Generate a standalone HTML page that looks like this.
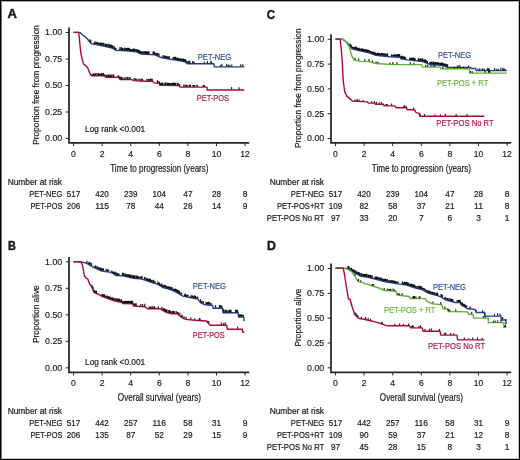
<!DOCTYPE html>
<html><head><meta charset="utf-8"><style>
html,body{margin:0;padding:0;background:#fff;width:520px;height:460px;overflow:hidden}
svg{display:block;will-change:transform}
text{font-family:"Liberation Sans",sans-serif}
</style></head><body>
<svg width="520" height="460" viewBox="0 0 520 460">
<rect x="0" y="0" width="520" height="460" fill="#fff"/>
<rect x="1" y="0" width="1" height="460" fill="#777"/><rect x="0" y="1" width="520" height="1" fill="#aaa"/><rect x="518" y="0" width="1" height="460" fill="#c8c8c8"/><rect x="0" y="458" width="520" height="1" fill="#c8c8c8"/>
<rect x="0" y="0" width="1" height="460" fill="#000"/><rect x="0" y="0" width="520" height="1" fill="#000"/><rect x="519" y="0" width="1" height="460" fill="#000"/><rect x="0" y="459" width="520" height="1" fill="#000"/>
<text x="7.50" y="17.80" font-size="12.6" fill="#1a1a1a" stroke="#1a1a1a" stroke-width="0.2" text-anchor="start" textLength="9.40" lengthAdjust="spacingAndGlyphs" font-weight="bold" style="stroke-width:0.45px">A</text>
<text x="8.00" y="249.70" font-size="12.6" fill="#1a1a1a" stroke="#1a1a1a" stroke-width="0.2" text-anchor="start" textLength="7.90" lengthAdjust="spacingAndGlyphs" font-weight="bold" style="stroke-width:0.45px">B</text>
<text x="266.70" y="18.60" font-size="12.6" fill="#1a1a1a" stroke="#1a1a1a" stroke-width="0.2" text-anchor="start" textLength="8.30" lengthAdjust="spacingAndGlyphs" font-weight="bold" style="stroke-width:0.45px">C</text>
<text x="266.90" y="249.70" font-size="12.6" fill="#1a1a1a" stroke="#1a1a1a" stroke-width="0.2" text-anchor="start" textLength="8.90" lengthAdjust="spacingAndGlyphs" font-weight="bold" style="stroke-width:0.45px">D</text>
<path d="M69.00 27.60V142.85H249.20" stroke="#262626" stroke-width="1.75" fill="none" stroke-linejoin="miter"/>
<text x="62.30" y="141.35" font-size="9.6" fill="#222" stroke="#222" stroke-width="0.2" text-anchor="end" textLength="17.20" lengthAdjust="spacingAndGlyphs">0.00</text>
<text x="62.30" y="114.85" font-size="9.6" fill="#222" stroke="#222" stroke-width="0.2" text-anchor="end" textLength="17.20" lengthAdjust="spacingAndGlyphs">0.25</text>
<text x="62.30" y="88.35" font-size="9.6" fill="#222" stroke="#222" stroke-width="0.2" text-anchor="end" textLength="17.20" lengthAdjust="spacingAndGlyphs">0.50</text>
<text x="62.30" y="61.85" font-size="9.6" fill="#222" stroke="#222" stroke-width="0.2" text-anchor="end" textLength="17.20" lengthAdjust="spacingAndGlyphs">0.75</text>
<text x="62.30" y="35.35" font-size="9.6" fill="#222" stroke="#222" stroke-width="0.2" text-anchor="end" textLength="17.20" lengthAdjust="spacingAndGlyphs">1.00</text>
<text x="73.50" y="156.70" font-size="9.7" fill="#222" stroke="#222" stroke-width="0.2" text-anchor="middle" textLength="4.80" lengthAdjust="spacingAndGlyphs">0</text>
<text x="102.10" y="156.70" font-size="9.7" fill="#222" stroke="#222" stroke-width="0.2" text-anchor="middle" textLength="4.80" lengthAdjust="spacingAndGlyphs">2</text>
<text x="130.70" y="156.70" font-size="9.7" fill="#222" stroke="#222" stroke-width="0.2" text-anchor="middle" textLength="4.80" lengthAdjust="spacingAndGlyphs">4</text>
<text x="159.30" y="156.70" font-size="9.7" fill="#222" stroke="#222" stroke-width="0.2" text-anchor="middle" textLength="4.80" lengthAdjust="spacingAndGlyphs">6</text>
<text x="187.90" y="156.70" font-size="9.7" fill="#222" stroke="#222" stroke-width="0.2" text-anchor="middle" textLength="4.80" lengthAdjust="spacingAndGlyphs">8</text>
<text x="216.50" y="156.70" font-size="9.7" fill="#222" stroke="#222" stroke-width="0.2" text-anchor="middle" textLength="9.50" lengthAdjust="spacingAndGlyphs">10</text>
<text x="245.10" y="156.70" font-size="9.7" fill="#222" stroke="#222" stroke-width="0.2" text-anchor="middle" textLength="9.50" lengthAdjust="spacingAndGlyphs">12</text>
<path d="M65.70 138.50H69.0 M65.70 112.00H69.0 M65.70 85.50H69.0 M65.70 59.00H69.0 M65.70 32.50H69.0 M73.50 142.85V146.05 M102.10 142.85V146.05 M130.70 142.85V146.05 M159.30 142.85V146.05 M187.90 142.85V146.05 M216.50 142.85V146.05 M245.10 142.85V146.05" stroke="#262626" stroke-width="1" fill="none"/>
<text x="159.40" y="171.60" font-size="10.2" fill="#1a1a1a" stroke="#1a1a1a" stroke-width="0.2" text-anchor="middle" textLength="98.30" lengthAdjust="spacingAndGlyphs">Time to progression (years)</text>
<text transform="translate(39.00,84.90) rotate(-90)" x="0" y="0" font-size="9.9" fill="#1a1a1a" stroke="#1a1a1a" stroke-width="0.2" text-anchor="middle" textLength="119.60" lengthAdjust="spacingAndGlyphs">Proportion free from progression</text>
<path d="M69.00 256.90V372.25H249.20" stroke="#262626" stroke-width="1.75" fill="none" stroke-linejoin="miter"/>
<text x="62.30" y="370.65" font-size="9.6" fill="#222" stroke="#222" stroke-width="0.2" text-anchor="end" textLength="17.20" lengthAdjust="spacingAndGlyphs">0.00</text>
<text x="62.30" y="344.15" font-size="9.6" fill="#222" stroke="#222" stroke-width="0.2" text-anchor="end" textLength="17.20" lengthAdjust="spacingAndGlyphs">0.25</text>
<text x="62.30" y="317.65" font-size="9.6" fill="#222" stroke="#222" stroke-width="0.2" text-anchor="end" textLength="17.20" lengthAdjust="spacingAndGlyphs">0.50</text>
<text x="62.30" y="291.15" font-size="9.6" fill="#222" stroke="#222" stroke-width="0.2" text-anchor="end" textLength="17.20" lengthAdjust="spacingAndGlyphs">0.75</text>
<text x="62.30" y="264.65" font-size="9.6" fill="#222" stroke="#222" stroke-width="0.2" text-anchor="end" textLength="17.20" lengthAdjust="spacingAndGlyphs">1.00</text>
<text x="73.50" y="385.70" font-size="9.7" fill="#222" stroke="#222" stroke-width="0.2" text-anchor="middle" textLength="4.80" lengthAdjust="spacingAndGlyphs">0</text>
<text x="102.10" y="385.70" font-size="9.7" fill="#222" stroke="#222" stroke-width="0.2" text-anchor="middle" textLength="4.80" lengthAdjust="spacingAndGlyphs">2</text>
<text x="130.70" y="385.70" font-size="9.7" fill="#222" stroke="#222" stroke-width="0.2" text-anchor="middle" textLength="4.80" lengthAdjust="spacingAndGlyphs">4</text>
<text x="159.30" y="385.70" font-size="9.7" fill="#222" stroke="#222" stroke-width="0.2" text-anchor="middle" textLength="4.80" lengthAdjust="spacingAndGlyphs">6</text>
<text x="187.90" y="385.70" font-size="9.7" fill="#222" stroke="#222" stroke-width="0.2" text-anchor="middle" textLength="4.80" lengthAdjust="spacingAndGlyphs">8</text>
<text x="216.50" y="385.70" font-size="9.7" fill="#222" stroke="#222" stroke-width="0.2" text-anchor="middle" textLength="9.50" lengthAdjust="spacingAndGlyphs">10</text>
<text x="245.10" y="385.70" font-size="9.7" fill="#222" stroke="#222" stroke-width="0.2" text-anchor="middle" textLength="9.50" lengthAdjust="spacingAndGlyphs">12</text>
<path d="M65.70 367.80H69.0 M65.70 341.30H69.0 M65.70 314.80H69.0 M65.70 288.30H69.0 M65.70 261.80H69.0 M73.50 372.25V375.45 M102.10 372.25V375.45 M130.70 372.25V375.45 M159.30 372.25V375.45 M187.90 372.25V375.45 M216.50 372.25V375.45 M245.10 372.25V375.45" stroke="#262626" stroke-width="1" fill="none"/>
<text x="159.40" y="400.60" font-size="10.2" fill="#1a1a1a" stroke="#1a1a1a" stroke-width="0.2" text-anchor="middle" textLength="83.20" lengthAdjust="spacingAndGlyphs">Overall survival (years)</text>
<text transform="translate(39.00,314.20) rotate(-90)" x="0" y="0" font-size="9.9" fill="#1a1a1a" stroke="#1a1a1a" stroke-width="0.2" text-anchor="middle" textLength="57.70" lengthAdjust="spacingAndGlyphs">Proportion alive</text>
<path d="M331.00 34.20V142.85H511.20" stroke="#262626" stroke-width="1.75" fill="none" stroke-linejoin="miter"/>
<text x="324.30" y="141.35" font-size="9.6" fill="#222" stroke="#222" stroke-width="0.2" text-anchor="end" textLength="17.20" lengthAdjust="spacingAndGlyphs">0.00</text>
<text x="324.30" y="116.55" font-size="9.6" fill="#222" stroke="#222" stroke-width="0.2" text-anchor="end" textLength="17.20" lengthAdjust="spacingAndGlyphs">0.25</text>
<text x="324.30" y="91.75" font-size="9.6" fill="#222" stroke="#222" stroke-width="0.2" text-anchor="end" textLength="17.20" lengthAdjust="spacingAndGlyphs">0.50</text>
<text x="324.30" y="66.95" font-size="9.6" fill="#222" stroke="#222" stroke-width="0.2" text-anchor="end" textLength="17.20" lengthAdjust="spacingAndGlyphs">0.75</text>
<text x="324.30" y="42.15" font-size="9.6" fill="#222" stroke="#222" stroke-width="0.2" text-anchor="end" textLength="17.20" lengthAdjust="spacingAndGlyphs">1.00</text>
<text x="335.50" y="156.70" font-size="9.7" fill="#222" stroke="#222" stroke-width="0.2" text-anchor="middle" textLength="4.80" lengthAdjust="spacingAndGlyphs">0</text>
<text x="364.10" y="156.70" font-size="9.7" fill="#222" stroke="#222" stroke-width="0.2" text-anchor="middle" textLength="4.80" lengthAdjust="spacingAndGlyphs">2</text>
<text x="392.70" y="156.70" font-size="9.7" fill="#222" stroke="#222" stroke-width="0.2" text-anchor="middle" textLength="4.80" lengthAdjust="spacingAndGlyphs">4</text>
<text x="421.30" y="156.70" font-size="9.7" fill="#222" stroke="#222" stroke-width="0.2" text-anchor="middle" textLength="4.80" lengthAdjust="spacingAndGlyphs">6</text>
<text x="449.90" y="156.70" font-size="9.7" fill="#222" stroke="#222" stroke-width="0.2" text-anchor="middle" textLength="4.80" lengthAdjust="spacingAndGlyphs">8</text>
<text x="478.50" y="156.70" font-size="9.7" fill="#222" stroke="#222" stroke-width="0.2" text-anchor="middle" textLength="9.50" lengthAdjust="spacingAndGlyphs">10</text>
<text x="507.10" y="156.70" font-size="9.7" fill="#222" stroke="#222" stroke-width="0.2" text-anchor="middle" textLength="9.50" lengthAdjust="spacingAndGlyphs">12</text>
<path d="M327.70 138.50H331.0 M327.70 113.70H331.0 M327.70 88.90H331.0 M327.70 64.10H331.0 M327.70 39.30H331.0 M335.50 142.85V146.05 M364.10 142.85V146.05 M392.70 142.85V146.05 M421.30 142.85V146.05 M449.90 142.85V146.05 M478.50 142.85V146.05 M507.10 142.85V146.05" stroke="#262626" stroke-width="1" fill="none"/>
<text x="421.40" y="171.60" font-size="10.2" fill="#1a1a1a" stroke="#1a1a1a" stroke-width="0.2" text-anchor="middle" textLength="99.30" lengthAdjust="spacingAndGlyphs">Time to progression (years)</text>
<text transform="translate(301.00,88.30) rotate(-90)" x="0" y="0" font-size="9.9" fill="#1a1a1a" stroke="#1a1a1a" stroke-width="0.2" text-anchor="middle" textLength="119.60" lengthAdjust="spacingAndGlyphs">Proportion free from progression</text>
<path d="M331.00 263.50V372.25H511.20" stroke="#262626" stroke-width="1.75" fill="none" stroke-linejoin="miter"/>
<text x="324.30" y="370.65" font-size="9.6" fill="#222" stroke="#222" stroke-width="0.2" text-anchor="end" textLength="17.20" lengthAdjust="spacingAndGlyphs">0.00</text>
<text x="324.30" y="345.85" font-size="9.6" fill="#222" stroke="#222" stroke-width="0.2" text-anchor="end" textLength="17.20" lengthAdjust="spacingAndGlyphs">0.25</text>
<text x="324.30" y="321.05" font-size="9.6" fill="#222" stroke="#222" stroke-width="0.2" text-anchor="end" textLength="17.20" lengthAdjust="spacingAndGlyphs">0.50</text>
<text x="324.30" y="296.25" font-size="9.6" fill="#222" stroke="#222" stroke-width="0.2" text-anchor="end" textLength="17.20" lengthAdjust="spacingAndGlyphs">0.75</text>
<text x="324.30" y="271.45" font-size="9.6" fill="#222" stroke="#222" stroke-width="0.2" text-anchor="end" textLength="17.20" lengthAdjust="spacingAndGlyphs">1.00</text>
<text x="335.50" y="385.70" font-size="9.7" fill="#222" stroke="#222" stroke-width="0.2" text-anchor="middle" textLength="4.80" lengthAdjust="spacingAndGlyphs">0</text>
<text x="364.10" y="385.70" font-size="9.7" fill="#222" stroke="#222" stroke-width="0.2" text-anchor="middle" textLength="4.80" lengthAdjust="spacingAndGlyphs">2</text>
<text x="392.70" y="385.70" font-size="9.7" fill="#222" stroke="#222" stroke-width="0.2" text-anchor="middle" textLength="4.80" lengthAdjust="spacingAndGlyphs">4</text>
<text x="421.30" y="385.70" font-size="9.7" fill="#222" stroke="#222" stroke-width="0.2" text-anchor="middle" textLength="4.80" lengthAdjust="spacingAndGlyphs">6</text>
<text x="449.90" y="385.70" font-size="9.7" fill="#222" stroke="#222" stroke-width="0.2" text-anchor="middle" textLength="4.80" lengthAdjust="spacingAndGlyphs">8</text>
<text x="478.50" y="385.70" font-size="9.7" fill="#222" stroke="#222" stroke-width="0.2" text-anchor="middle" textLength="9.50" lengthAdjust="spacingAndGlyphs">10</text>
<text x="507.10" y="385.70" font-size="9.7" fill="#222" stroke="#222" stroke-width="0.2" text-anchor="middle" textLength="9.50" lengthAdjust="spacingAndGlyphs">12</text>
<path d="M327.70 367.80H331.0 M327.70 343.00H331.0 M327.70 318.20H331.0 M327.70 293.40H331.0 M327.70 268.60H331.0 M335.50 372.25V375.45 M364.10 372.25V375.45 M392.70 372.25V375.45 M421.30 372.25V375.45 M449.90 372.25V375.45 M478.50 372.25V375.45 M507.10 372.25V375.45" stroke="#262626" stroke-width="1" fill="none"/>
<text x="421.40" y="400.60" font-size="10.2" fill="#1a1a1a" stroke="#1a1a1a" stroke-width="0.2" text-anchor="middle" textLength="83.20" lengthAdjust="spacingAndGlyphs">Overall survival (years)</text>
<text transform="translate(301.00,317.60) rotate(-90)" x="0" y="0" font-size="9.9" fill="#1a1a1a" stroke="#1a1a1a" stroke-width="0.2" text-anchor="middle" textLength="57.70" lengthAdjust="spacingAndGlyphs">Proportion alive</text>
<text x="7.70" y="184.90" font-size="8.9" fill="#1a1a1a" stroke="#1a1a1a" stroke-width="0.2" text-anchor="start" textLength="54.30" lengthAdjust="spacingAndGlyphs">Number at risk</text>
<text x="62.30" y="196.70" font-size="8.9" fill="#1a1a1a" stroke="#1a1a1a" stroke-width="0.2" text-anchor="end" textLength="33.00" lengthAdjust="spacingAndGlyphs">PET-NEG</text>
<text x="73.50" y="196.70" font-size="8.9" fill="#1a1a1a" stroke="#1a1a1a" stroke-width="0.2" text-anchor="middle" textLength="13.50" lengthAdjust="spacingAndGlyphs">517</text>
<text x="102.10" y="196.70" font-size="8.9" fill="#1a1a1a" stroke="#1a1a1a" stroke-width="0.2" text-anchor="middle" textLength="13.50" lengthAdjust="spacingAndGlyphs">420</text>
<text x="130.70" y="196.70" font-size="8.9" fill="#1a1a1a" stroke="#1a1a1a" stroke-width="0.2" text-anchor="middle" textLength="13.50" lengthAdjust="spacingAndGlyphs">239</text>
<text x="159.30" y="196.70" font-size="8.9" fill="#1a1a1a" stroke="#1a1a1a" stroke-width="0.2" text-anchor="middle" textLength="13.50" lengthAdjust="spacingAndGlyphs">104</text>
<text x="187.90" y="196.70" font-size="8.9" fill="#1a1a1a" stroke="#1a1a1a" stroke-width="0.2" text-anchor="middle" textLength="9.10" lengthAdjust="spacingAndGlyphs">47</text>
<text x="216.50" y="196.70" font-size="8.9" fill="#1a1a1a" stroke="#1a1a1a" stroke-width="0.2" text-anchor="middle" textLength="9.10" lengthAdjust="spacingAndGlyphs">28</text>
<text x="245.10" y="196.70" font-size="8.9" fill="#1a1a1a" stroke="#1a1a1a" stroke-width="0.2" text-anchor="middle" textLength="4.70" lengthAdjust="spacingAndGlyphs">8</text>
<text x="62.30" y="208.85" font-size="8.9" fill="#1a1a1a" stroke="#1a1a1a" stroke-width="0.2" text-anchor="end" textLength="31.90" lengthAdjust="spacingAndGlyphs">PET-POS</text>
<text x="73.50" y="208.85" font-size="8.9" fill="#1a1a1a" stroke="#1a1a1a" stroke-width="0.2" text-anchor="middle" textLength="13.50" lengthAdjust="spacingAndGlyphs">206</text>
<text x="102.10" y="208.85" font-size="8.9" fill="#1a1a1a" stroke="#1a1a1a" stroke-width="0.2" text-anchor="middle" textLength="13.50" lengthAdjust="spacingAndGlyphs">115</text>
<text x="130.70" y="208.85" font-size="8.9" fill="#1a1a1a" stroke="#1a1a1a" stroke-width="0.2" text-anchor="middle" textLength="9.10" lengthAdjust="spacingAndGlyphs">78</text>
<text x="159.30" y="208.85" font-size="8.9" fill="#1a1a1a" stroke="#1a1a1a" stroke-width="0.2" text-anchor="middle" textLength="9.10" lengthAdjust="spacingAndGlyphs">44</text>
<text x="187.90" y="208.85" font-size="8.9" fill="#1a1a1a" stroke="#1a1a1a" stroke-width="0.2" text-anchor="middle" textLength="9.10" lengthAdjust="spacingAndGlyphs">26</text>
<text x="216.50" y="208.85" font-size="8.9" fill="#1a1a1a" stroke="#1a1a1a" stroke-width="0.2" text-anchor="middle" textLength="9.10" lengthAdjust="spacingAndGlyphs">14</text>
<text x="245.10" y="208.85" font-size="8.9" fill="#1a1a1a" stroke="#1a1a1a" stroke-width="0.2" text-anchor="middle" textLength="4.70" lengthAdjust="spacingAndGlyphs">9</text>
<text x="7.70" y="413.90" font-size="8.9" fill="#1a1a1a" stroke="#1a1a1a" stroke-width="0.2" text-anchor="start" textLength="54.30" lengthAdjust="spacingAndGlyphs">Number at risk</text>
<text x="62.30" y="425.70" font-size="8.9" fill="#1a1a1a" stroke="#1a1a1a" stroke-width="0.2" text-anchor="end" textLength="33.00" lengthAdjust="spacingAndGlyphs">PET-NEG</text>
<text x="73.50" y="425.70" font-size="8.9" fill="#1a1a1a" stroke="#1a1a1a" stroke-width="0.2" text-anchor="middle" textLength="13.50" lengthAdjust="spacingAndGlyphs">517</text>
<text x="102.10" y="425.70" font-size="8.9" fill="#1a1a1a" stroke="#1a1a1a" stroke-width="0.2" text-anchor="middle" textLength="13.50" lengthAdjust="spacingAndGlyphs">442</text>
<text x="130.70" y="425.70" font-size="8.9" fill="#1a1a1a" stroke="#1a1a1a" stroke-width="0.2" text-anchor="middle" textLength="13.50" lengthAdjust="spacingAndGlyphs">257</text>
<text x="159.30" y="425.70" font-size="8.9" fill="#1a1a1a" stroke="#1a1a1a" stroke-width="0.2" text-anchor="middle" textLength="13.50" lengthAdjust="spacingAndGlyphs">116</text>
<text x="187.90" y="425.70" font-size="8.9" fill="#1a1a1a" stroke="#1a1a1a" stroke-width="0.2" text-anchor="middle" textLength="9.10" lengthAdjust="spacingAndGlyphs">58</text>
<text x="216.50" y="425.70" font-size="8.9" fill="#1a1a1a" stroke="#1a1a1a" stroke-width="0.2" text-anchor="middle" textLength="9.10" lengthAdjust="spacingAndGlyphs">31</text>
<text x="245.10" y="425.70" font-size="8.9" fill="#1a1a1a" stroke="#1a1a1a" stroke-width="0.2" text-anchor="middle" textLength="4.70" lengthAdjust="spacingAndGlyphs">9</text>
<text x="62.30" y="437.85" font-size="8.9" fill="#1a1a1a" stroke="#1a1a1a" stroke-width="0.2" text-anchor="end" textLength="31.90" lengthAdjust="spacingAndGlyphs">PET-POS</text>
<text x="73.50" y="437.85" font-size="8.9" fill="#1a1a1a" stroke="#1a1a1a" stroke-width="0.2" text-anchor="middle" textLength="13.50" lengthAdjust="spacingAndGlyphs">206</text>
<text x="102.10" y="437.85" font-size="8.9" fill="#1a1a1a" stroke="#1a1a1a" stroke-width="0.2" text-anchor="middle" textLength="13.50" lengthAdjust="spacingAndGlyphs">135</text>
<text x="130.70" y="437.85" font-size="8.9" fill="#1a1a1a" stroke="#1a1a1a" stroke-width="0.2" text-anchor="middle" textLength="9.10" lengthAdjust="spacingAndGlyphs">87</text>
<text x="159.30" y="437.85" font-size="8.9" fill="#1a1a1a" stroke="#1a1a1a" stroke-width="0.2" text-anchor="middle" textLength="9.10" lengthAdjust="spacingAndGlyphs">52</text>
<text x="187.90" y="437.85" font-size="8.9" fill="#1a1a1a" stroke="#1a1a1a" stroke-width="0.2" text-anchor="middle" textLength="9.10" lengthAdjust="spacingAndGlyphs">29</text>
<text x="216.50" y="437.85" font-size="8.9" fill="#1a1a1a" stroke="#1a1a1a" stroke-width="0.2" text-anchor="middle" textLength="9.10" lengthAdjust="spacingAndGlyphs">15</text>
<text x="245.10" y="437.85" font-size="8.9" fill="#1a1a1a" stroke="#1a1a1a" stroke-width="0.2" text-anchor="middle" textLength="4.70" lengthAdjust="spacingAndGlyphs">9</text>
<text x="269.70" y="184.90" font-size="8.9" fill="#1a1a1a" stroke="#1a1a1a" stroke-width="0.2" text-anchor="start" textLength="54.30" lengthAdjust="spacingAndGlyphs">Number at risk</text>
<text x="324.30" y="196.70" font-size="8.9" fill="#1a1a1a" stroke="#1a1a1a" stroke-width="0.2" text-anchor="end" textLength="33.50" lengthAdjust="spacingAndGlyphs">PET-NEG</text>
<text x="335.50" y="196.70" font-size="8.9" fill="#1a1a1a" stroke="#1a1a1a" stroke-width="0.2" text-anchor="middle" textLength="13.50" lengthAdjust="spacingAndGlyphs">517</text>
<text x="364.10" y="196.70" font-size="8.9" fill="#1a1a1a" stroke="#1a1a1a" stroke-width="0.2" text-anchor="middle" textLength="13.50" lengthAdjust="spacingAndGlyphs">420</text>
<text x="392.70" y="196.70" font-size="8.9" fill="#1a1a1a" stroke="#1a1a1a" stroke-width="0.2" text-anchor="middle" textLength="13.50" lengthAdjust="spacingAndGlyphs">239</text>
<text x="421.30" y="196.70" font-size="8.9" fill="#1a1a1a" stroke="#1a1a1a" stroke-width="0.2" text-anchor="middle" textLength="13.50" lengthAdjust="spacingAndGlyphs">104</text>
<text x="449.90" y="196.70" font-size="8.9" fill="#1a1a1a" stroke="#1a1a1a" stroke-width="0.2" text-anchor="middle" textLength="9.10" lengthAdjust="spacingAndGlyphs">47</text>
<text x="478.50" y="196.70" font-size="8.9" fill="#1a1a1a" stroke="#1a1a1a" stroke-width="0.2" text-anchor="middle" textLength="9.10" lengthAdjust="spacingAndGlyphs">28</text>
<text x="507.10" y="196.70" font-size="8.9" fill="#1a1a1a" stroke="#1a1a1a" stroke-width="0.2" text-anchor="middle" textLength="4.70" lengthAdjust="spacingAndGlyphs">8</text>
<text x="324.30" y="208.85" font-size="8.9" fill="#1a1a1a" stroke="#1a1a1a" stroke-width="0.2" text-anchor="end" textLength="47.30" lengthAdjust="spacingAndGlyphs">PET-POS+RT</text>
<text x="335.50" y="208.85" font-size="8.9" fill="#1a1a1a" stroke="#1a1a1a" stroke-width="0.2" text-anchor="middle" textLength="13.50" lengthAdjust="spacingAndGlyphs">109</text>
<text x="364.10" y="208.85" font-size="8.9" fill="#1a1a1a" stroke="#1a1a1a" stroke-width="0.2" text-anchor="middle" textLength="9.10" lengthAdjust="spacingAndGlyphs">82</text>
<text x="392.70" y="208.85" font-size="8.9" fill="#1a1a1a" stroke="#1a1a1a" stroke-width="0.2" text-anchor="middle" textLength="9.10" lengthAdjust="spacingAndGlyphs">58</text>
<text x="421.30" y="208.85" font-size="8.9" fill="#1a1a1a" stroke="#1a1a1a" stroke-width="0.2" text-anchor="middle" textLength="9.10" lengthAdjust="spacingAndGlyphs">37</text>
<text x="449.90" y="208.85" font-size="8.9" fill="#1a1a1a" stroke="#1a1a1a" stroke-width="0.2" text-anchor="middle" textLength="9.10" lengthAdjust="spacingAndGlyphs">21</text>
<text x="478.50" y="208.85" font-size="8.9" fill="#1a1a1a" stroke="#1a1a1a" stroke-width="0.2" text-anchor="middle" textLength="9.10" lengthAdjust="spacingAndGlyphs">11</text>
<text x="507.10" y="208.85" font-size="8.9" fill="#1a1a1a" stroke="#1a1a1a" stroke-width="0.2" text-anchor="middle" textLength="4.70" lengthAdjust="spacingAndGlyphs">8</text>
<text x="324.30" y="221.00" font-size="8.9" fill="#1a1a1a" stroke="#1a1a1a" stroke-width="0.2" text-anchor="end" textLength="57.50" lengthAdjust="spacingAndGlyphs">PET-POS No RT</text>
<text x="335.50" y="221.00" font-size="8.9" fill="#1a1a1a" stroke="#1a1a1a" stroke-width="0.2" text-anchor="middle" textLength="9.10" lengthAdjust="spacingAndGlyphs">97</text>
<text x="364.10" y="221.00" font-size="8.9" fill="#1a1a1a" stroke="#1a1a1a" stroke-width="0.2" text-anchor="middle" textLength="9.10" lengthAdjust="spacingAndGlyphs">33</text>
<text x="392.70" y="221.00" font-size="8.9" fill="#1a1a1a" stroke="#1a1a1a" stroke-width="0.2" text-anchor="middle" textLength="9.10" lengthAdjust="spacingAndGlyphs">20</text>
<text x="421.30" y="221.00" font-size="8.9" fill="#1a1a1a" stroke="#1a1a1a" stroke-width="0.2" text-anchor="middle" textLength="4.70" lengthAdjust="spacingAndGlyphs">7</text>
<text x="449.90" y="221.00" font-size="8.9" fill="#1a1a1a" stroke="#1a1a1a" stroke-width="0.2" text-anchor="middle" textLength="4.70" lengthAdjust="spacingAndGlyphs">6</text>
<text x="478.50" y="221.00" font-size="8.9" fill="#1a1a1a" stroke="#1a1a1a" stroke-width="0.2" text-anchor="middle" textLength="4.70" lengthAdjust="spacingAndGlyphs">3</text>
<text x="507.10" y="221.00" font-size="8.9" fill="#1a1a1a" stroke="#1a1a1a" stroke-width="0.2" text-anchor="middle" textLength="4.70" lengthAdjust="spacingAndGlyphs">1</text>
<text x="269.70" y="413.90" font-size="8.9" fill="#1a1a1a" stroke="#1a1a1a" stroke-width="0.2" text-anchor="start" textLength="54.30" lengthAdjust="spacingAndGlyphs">Number at risk</text>
<text x="324.30" y="425.70" font-size="8.9" fill="#1a1a1a" stroke="#1a1a1a" stroke-width="0.2" text-anchor="end" textLength="33.50" lengthAdjust="spacingAndGlyphs">PET-NEG</text>
<text x="335.50" y="425.70" font-size="8.9" fill="#1a1a1a" stroke="#1a1a1a" stroke-width="0.2" text-anchor="middle" textLength="13.50" lengthAdjust="spacingAndGlyphs">517</text>
<text x="364.10" y="425.70" font-size="8.9" fill="#1a1a1a" stroke="#1a1a1a" stroke-width="0.2" text-anchor="middle" textLength="13.50" lengthAdjust="spacingAndGlyphs">442</text>
<text x="392.70" y="425.70" font-size="8.9" fill="#1a1a1a" stroke="#1a1a1a" stroke-width="0.2" text-anchor="middle" textLength="13.50" lengthAdjust="spacingAndGlyphs">257</text>
<text x="421.30" y="425.70" font-size="8.9" fill="#1a1a1a" stroke="#1a1a1a" stroke-width="0.2" text-anchor="middle" textLength="13.50" lengthAdjust="spacingAndGlyphs">116</text>
<text x="449.90" y="425.70" font-size="8.9" fill="#1a1a1a" stroke="#1a1a1a" stroke-width="0.2" text-anchor="middle" textLength="9.10" lengthAdjust="spacingAndGlyphs">58</text>
<text x="478.50" y="425.70" font-size="8.9" fill="#1a1a1a" stroke="#1a1a1a" stroke-width="0.2" text-anchor="middle" textLength="9.10" lengthAdjust="spacingAndGlyphs">31</text>
<text x="507.10" y="425.70" font-size="8.9" fill="#1a1a1a" stroke="#1a1a1a" stroke-width="0.2" text-anchor="middle" textLength="4.70" lengthAdjust="spacingAndGlyphs">9</text>
<text x="324.30" y="437.85" font-size="8.9" fill="#1a1a1a" stroke="#1a1a1a" stroke-width="0.2" text-anchor="end" textLength="47.30" lengthAdjust="spacingAndGlyphs">PET-POS+RT</text>
<text x="335.50" y="437.85" font-size="8.9" fill="#1a1a1a" stroke="#1a1a1a" stroke-width="0.2" text-anchor="middle" textLength="13.50" lengthAdjust="spacingAndGlyphs">109</text>
<text x="364.10" y="437.85" font-size="8.9" fill="#1a1a1a" stroke="#1a1a1a" stroke-width="0.2" text-anchor="middle" textLength="9.10" lengthAdjust="spacingAndGlyphs">90</text>
<text x="392.70" y="437.85" font-size="8.9" fill="#1a1a1a" stroke="#1a1a1a" stroke-width="0.2" text-anchor="middle" textLength="9.10" lengthAdjust="spacingAndGlyphs">59</text>
<text x="421.30" y="437.85" font-size="8.9" fill="#1a1a1a" stroke="#1a1a1a" stroke-width="0.2" text-anchor="middle" textLength="9.10" lengthAdjust="spacingAndGlyphs">37</text>
<text x="449.90" y="437.85" font-size="8.9" fill="#1a1a1a" stroke="#1a1a1a" stroke-width="0.2" text-anchor="middle" textLength="9.10" lengthAdjust="spacingAndGlyphs">21</text>
<text x="478.50" y="437.85" font-size="8.9" fill="#1a1a1a" stroke="#1a1a1a" stroke-width="0.2" text-anchor="middle" textLength="9.10" lengthAdjust="spacingAndGlyphs">12</text>
<text x="507.10" y="437.85" font-size="8.9" fill="#1a1a1a" stroke="#1a1a1a" stroke-width="0.2" text-anchor="middle" textLength="4.70" lengthAdjust="spacingAndGlyphs">8</text>
<text x="324.30" y="450.00" font-size="8.9" fill="#1a1a1a" stroke="#1a1a1a" stroke-width="0.2" text-anchor="end" textLength="57.50" lengthAdjust="spacingAndGlyphs">PET-POS No RT</text>
<text x="335.50" y="450.00" font-size="8.9" fill="#1a1a1a" stroke="#1a1a1a" stroke-width="0.2" text-anchor="middle" textLength="9.10" lengthAdjust="spacingAndGlyphs">97</text>
<text x="364.10" y="450.00" font-size="8.9" fill="#1a1a1a" stroke="#1a1a1a" stroke-width="0.2" text-anchor="middle" textLength="9.10" lengthAdjust="spacingAndGlyphs">45</text>
<text x="392.70" y="450.00" font-size="8.9" fill="#1a1a1a" stroke="#1a1a1a" stroke-width="0.2" text-anchor="middle" textLength="9.10" lengthAdjust="spacingAndGlyphs">28</text>
<text x="421.30" y="450.00" font-size="8.9" fill="#1a1a1a" stroke="#1a1a1a" stroke-width="0.2" text-anchor="middle" textLength="9.10" lengthAdjust="spacingAndGlyphs">15</text>
<text x="449.90" y="450.00" font-size="8.9" fill="#1a1a1a" stroke="#1a1a1a" stroke-width="0.2" text-anchor="middle" textLength="4.70" lengthAdjust="spacingAndGlyphs">8</text>
<text x="478.50" y="450.00" font-size="8.9" fill="#1a1a1a" stroke="#1a1a1a" stroke-width="0.2" text-anchor="middle" textLength="4.70" lengthAdjust="spacingAndGlyphs">3</text>
<text x="507.10" y="450.00" font-size="8.9" fill="#1a1a1a" stroke="#1a1a1a" stroke-width="0.2" text-anchor="middle" textLength="4.70" lengthAdjust="spacingAndGlyphs">1</text>
<text x="85.10" y="132.10" font-size="8.8" fill="#1a1a1a" stroke="#1a1a1a" stroke-width="0.2" text-anchor="start" textLength="60.00" lengthAdjust="spacingAndGlyphs">Log rank &lt;0.001</text>
<text x="85.10" y="364.90" font-size="8.8" fill="#1a1a1a" stroke="#1a1a1a" stroke-width="0.2" text-anchor="start" textLength="60.00" lengthAdjust="spacingAndGlyphs">Log rank &lt;0.001</text>
<text x="197.80" y="60.00" font-size="8.4" fill="#36559a" stroke="#36559a" stroke-width="0.2" text-anchor="start" textLength="33.30" lengthAdjust="spacingAndGlyphs">PET-NEG</text>
<text x="196.80" y="101.30" font-size="8.4" fill="#b3204a" stroke="#b3204a" stroke-width="0.2" text-anchor="start" textLength="32.30" lengthAdjust="spacingAndGlyphs">PET-POS</text>
<text x="192.80" y="288.80" font-size="8.4" fill="#36559a" stroke="#36559a" stroke-width="0.2" text-anchor="start" textLength="33.20" lengthAdjust="spacingAndGlyphs">PET-NEG</text>
<text x="192.80" y="337.60" font-size="8.4" fill="#b3204a" stroke="#b3204a" stroke-width="0.2" text-anchor="start" textLength="32.00" lengthAdjust="spacingAndGlyphs">PET-POS</text>
<text x="437.90" y="58.30" font-size="8.4" fill="#36559a" stroke="#36559a" stroke-width="0.2" text-anchor="start" textLength="33.40" lengthAdjust="spacingAndGlyphs">PET-NEG</text>
<text x="436.90" y="85.80" font-size="8.4" fill="#6cb64c" stroke="#6cb64c" stroke-width="0.2" text-anchor="start" textLength="51.40" lengthAdjust="spacingAndGlyphs">PET-POS + RT</text>
<text x="436.30" y="125.80" font-size="8.4" fill="#b3204a" stroke="#b3204a" stroke-width="0.2" text-anchor="start" textLength="57.40" lengthAdjust="spacingAndGlyphs">PET-POS No RT</text>
<text x="432.90" y="290.00" font-size="8.4" fill="#36559a" stroke="#36559a" stroke-width="0.2" text-anchor="start" textLength="33.10" lengthAdjust="spacingAndGlyphs">PET-NEG</text>
<text x="384.00" y="312.50" font-size="8.4" fill="#6cb64c" stroke="#6cb64c" stroke-width="0.2" text-anchor="start" textLength="51.40" lengthAdjust="spacingAndGlyphs">PET-POS + RT</text>
<text x="427.90" y="348.80" font-size="8.4" fill="#b3204a" stroke="#b3204a" stroke-width="0.2" text-anchor="start" textLength="57.30" lengthAdjust="spacingAndGlyphs">PET-POS No RT</text>
<polyline points="73.50,32.40 78.50,32.40 80.20,32.70 82.60,35.00 85.50,36.80 88.40,40.30 91.40,43.80 96.50,44.60 105.80,46.50 111.90,48.00 115.80,50.20 125.80,50.80 136.50,51.80 141.20,54.00 155.00,54.90 160.30,57.30 168.80,59.00 177.30,60.40 185.00,61.90 187.50,63.75 213.75,63.75 214.40,66.90 244.40,66.90" fill="none" stroke="#223f8c" stroke-width="1.4" stroke-linejoin="miter"/>
<polyline points="73.50,32.40 78.50,32.40 79.30,37.40 80.00,45.60 80.80,52.60 82.00,58.50 83.70,64.40 86.10,65.80 87.80,68.00 89.60,72.60 91.40,75.60 92.00,75.80 104.20,75.80 106.00,77.30 118.80,77.30 120.00,79.60 131.90,79.60 133.00,80.60 144.80,81.20 152.70,81.20 154.00,82.90 158.80,83.20 160.00,85.30 178.70,85.60 180.10,87.10 206.90,87.10 207.25,90.00 244.40,90.00" fill="none" stroke="#ac0a33" stroke-width="1.4" stroke-linejoin="miter"/>
<polyline points="73.50,261.80 80.40,261.80 86.30,263.10 94.10,267.70 101.90,271.00 111.00,272.30 116.20,275.50 122.80,275.80 133.50,278.40 142.00,279.10 150.40,282.00 157.50,284.10 163.10,287.60 168.80,289.00 175.80,291.80 182.90,296.10 190.00,297.50 197.70,299.10 200.50,302.60 204.80,304.70 212.50,305.40 213.20,308.20 222.40,308.20 223.10,312.80 238.00,312.80 238.70,317.00 243.60,317.00 244.30,321.20" fill="none" stroke="#223f8c" stroke-width="1.4" stroke-linejoin="miter"/>
<polyline points="73.50,261.80 80.80,261.80 82.00,264.00 83.20,268.70 84.30,275.80 86.10,278.10 87.80,278.90 89.60,284.00 91.40,286.30 93.10,289.90 94.30,292.80 97.80,294.00 101.90,296.40 107.10,298.30 115.00,301.00 121.50,302.20 122.80,303.50 132.80,303.80 133.50,306.00 144.80,306.70 147.60,308.80 160.30,308.80 166.00,312.30 171.60,313.70 177.30,313.70 181.50,317.30 185.70,319.40 194.90,320.30 206.20,321.00 207.60,322.40 210.40,325.20 226.70,325.20 227.40,329.20 242.20,329.20 242.90,332.30 244.30,332.30" fill="none" stroke="#ac0a33" stroke-width="1.4" stroke-linejoin="miter"/>
<polyline points="335.50,39.10 342.40,39.10 347.00,42.40 352.20,48.90 360.00,50.90 369.10,52.80 375.60,55.40 390.00,56.70 399.80,57.20 401.20,58.80 407.20,59.90 422.70,61.50 429.40,64.20 442.90,65.60 448.30,67.50 470.60,67.50 471.25,68.50 475.60,68.50 476.25,70.60 506.90,70.60" fill="none" stroke="#223f8c" stroke-width="1.4" stroke-linejoin="miter"/>
<polyline points="335.50,39.10 343.10,39.10 345.40,40.90 348.50,45.40 350.00,49.20 351.50,55.30 353.80,59.90 356.80,60.60 360.60,61.40 369.10,61.60 375.60,63.50 393.70,64.60 421.30,64.60 422.70,67.10 440.20,67.10 440.90,68.80 469.40,68.80 469.75,73.10 506.90,73.10" fill="none" stroke="#5fb038" stroke-width="1.4" stroke-linejoin="miter"/>
<polyline points="335.50,39.10 340.10,39.10 341.30,49.20 342.40,64.40 343.10,79.70 344.70,91.80 346.90,96.40 349.20,97.90 352.30,101.00 367.30,101.90 368.50,103.10 374.20,103.10 375.40,104.20 383.50,104.20 384.00,105.90 395.00,105.90 396.20,107.70 406.60,107.70 407.00,109.50 414.70,110.00 415.80,112.30 419.20,113.50 420.00,116.20 484.40,116.20" fill="none" stroke="#ac0a33" stroke-width="1.4" stroke-linejoin="miter"/>
<polyline points="335.50,268.10 343.00,268.10 348.40,268.60 351.80,271.20 355.30,273.50 361.10,276.20 366.80,277.00 376.10,279.30 384.10,281.60 398.00,283.90 406.50,285.10 414.60,287.80 422.70,289.80 428.10,293.20 436.10,295.20 441.50,297.20 445.60,299.90 455.00,302.50 460.00,302.50 461.25,305.00 463.75,306.25 467.50,308.75 475.00,309.40 476.25,312.50 484.40,312.50 485.00,316.10 500.90,316.10 501.30,320.00 505.70,320.00 506.10,324.30" fill="none" stroke="#223f8c" stroke-width="1.4" stroke-linejoin="miter"/>
<polyline points="335.50,268.10 345.00,268.30 351.20,271.20 355.00,276.20 357.50,281.00 365.00,283.70 377.50,287.50 384.80,290.50 395.80,291.20 397.10,295.20 409.20,296.50 410.60,298.60 425.40,298.60 426.70,301.20 432.10,303.90 441.50,304.60 442.90,308.60 447.60,309.30 448.30,311.50 467.50,311.90 468.75,314.40 473.10,314.40 473.75,318.10 488.30,318.10 488.30,322.60 503.90,322.60 503.90,327.40 506.50,327.40" fill="none" stroke="#5fb038" stroke-width="1.4" stroke-linejoin="miter"/>
<polyline points="335.50,268.10 343.20,268.10 344.30,273.50 345.50,281.00 346.70,288.50 348.40,298.90 350.10,299.20 350.70,301.80 352.20,307.00 354.80,314.50 358.70,318.30 363.90,319.30 372.50,321.20 383.00,324.30 387.30,325.80 409.50,325.80 410.50,327.90 422.20,327.90 423.10,331.20 440.10,331.20 440.90,335.10 456.90,335.10 457.70,339.90 484.30,339.90" fill="none" stroke="#ac0a33" stroke-width="1.4" stroke-linejoin="miter"/>
<path d="M90.00 41.77v-2.43 M90.78 42.68v-2.53 M94.45 43.88v-2.04 M95.80 44.09v-2.80 M96.68 44.24v-1.94 M97.70 44.45v-2.40 M98.82 44.67v-1.83 M99.95 44.90v-2.13 M100.43 45.00v-2.34 M101.52 45.23v-2.64 M102.80 45.49v-2.75 M103.65 45.66v-2.85 M104.19 45.77v-2.02 M105.51 46.04v-2.53 M106.23 46.21v-2.23 M107.00 46.39v-2.48 M108.26 46.70v-2.91 M109.48 47.01v-2.59 M110.08 47.15v-2.96 M111.34 47.46v-2.64 M111.98 47.65v-2.47 M112.69 48.04v-2.82 M114.03 48.80v-2.75 M114.85 49.26v-2.12 M115.99 49.81v-1.81 M119.83 50.04v-2.85 M121.17 50.12v-3.00 M121.89 50.17v-2.50 M122.37 50.19v-2.26 M123.37 50.25v-1.80 M124.60 50.33v-2.95 M125.86 50.41v-2.33 M126.78 50.49v-2.49 M127.73 50.58v-2.93 M128.64 50.67v-2.65 M129.30 50.73v-2.97 M130.22 50.81v-1.76 M131.04 50.89v-1.78 M132.05 50.98v-1.83 M133.06 51.08v-2.60 M133.83 51.15v-2.67 M134.30 51.19v-2.60 M135.62 51.32v-2.32 M136.60 51.45v-2.20 M137.33 51.79v-2.49 M138.05 52.13v-2.72 M138.53 52.35v-2.67 M139.26 52.69v-2.75 M139.92 53.00v-2.29 M141.00 53.51v-2.15 M141.75 53.64v-2.30 M142.97 53.72v-2.17 M144.00 53.78v-2.31 M144.66 53.83v-2.41 M145.28 53.87v-2.80 M145.89 53.91v-2.76 M146.92 53.97v-2.18 M147.49 54.01v-2.74 M148.18 54.06v-2.27 M149.01 54.11v-2.90 M153.05 54.37v-2.98 M153.89 54.43v-2.91 M154.54 54.47v-2.80 M155.59 54.76v-2.11 M156.34 55.11v-1.84 M157.32 55.55v-2.76 M157.81 55.77v-2.62 M159.09 56.35v-2.87 M162.98 57.44v-2.12 M164.02 57.64v-2.27 M165.32 57.90v-2.18 M165.99 58.04v-2.35 M167.15 58.27v-2.00 M168.08 58.46v-1.96 M169.24 58.67v-2.76 M173.03 59.30v-1.81 M173.72 59.41v-2.41 M174.56 59.55v-2.72 M175.01 59.62v-1.91 M175.57 59.71v-2.97 M176.79 59.92v-2.38 M177.52 60.04v-2.19 M178.55 60.24v-2.20 M179.18 60.37v-1.90 M180.13 60.55v-2.23 M180.65 60.65v-2.22 M181.64 60.85v-2.23 M182.81 61.07v-2.29 M183.60 61.23v-2.63 M184.43 61.39v-2.33 M185.10 61.57v-2.62 M185.61 61.95v-2.28 M186.85 62.87v-2.22 M188.11 63.35v-2.08 M188.98 63.35v-2.77" stroke="#111" stroke-width="1.1" fill="none"/>
<path d="M190.00 63.35v-2.41 M192.54 63.35v-2.16 M193.27 63.35v-1.55 M194.13 63.35v-1.59 M204.24 63.35v-1.67 M207.34 63.35v-2.46 M210.79 63.35v-2.42 M211.31 63.35v-2.10 M220.49 66.50v-1.61 M221.93 66.50v-2.45 M226.60 66.50v-2.37 M228.26 66.50v-1.98 M229.78 66.50v-1.63 M231.78 66.50v-1.99 M240.72 66.50v-2.28 M242.78 66.50v-2.25" stroke="#111" stroke-width="1.1" fill="none"/>
<path d="M92.00 75.40v-1.65 M93.43 75.40v-2.11 M94.45 75.40v-1.74 M95.25 75.40v-2.18 M96.10 75.40v-2.30 M97.80 75.40v-2.32 M98.78 75.40v-2.18 M99.58 75.40v-1.57 M100.65 75.40v-1.73 M101.57 75.40v-2.39 M102.20 75.40v-2.07 M103.43 75.40v-2.46 M104.95 76.03v-2.07 M106.34 76.90v-1.98 M107.75 76.90v-2.05 M108.49 76.90v-2.33 M109.83 76.90v-2.48 M110.58 76.90v-1.82 M111.27 76.90v-2.48 M112.90 76.90v-2.49 M113.75 76.90v-2.34 M118.16 76.90v-1.93 M119.36 77.98v-1.55 M120.25 79.20v-2.07 M120.96 79.20v-2.59 M121.92 79.20v-1.67 M122.72 79.20v-1.66 M124.33 79.20v-1.65 M126.02 79.20v-2.39 M127.46 79.20v-2.28 M128.76 79.20v-1.83 M130.19 79.20v-2.28 M134.07 80.25v-2.33 M135.41 80.32v-1.74 M136.70 80.39v-1.74 M138.32 80.47v-1.68 M139.99 80.56v-1.90 M141.38 80.63v-2.15 M142.67 80.69v-1.88 M146.81 80.80v-2.14 M148.22 80.80v-1.83 M149.17 80.80v-1.59 M150.27 80.80v-2.39 M151.18 80.80v-1.98 M152.34 80.80v-1.93 M157.36 82.71v-2.34 M158.04 82.75v-2.00 M159.46 83.96v-2.36 M160.69 84.91v-1.98 M161.38 84.92v-2.17 M162.09 84.93v-2.40 M162.57 84.94v-2.52 M164.26 84.97v-2.15 M165.47 84.99v-2.61 M166.82 85.01v-2.49 M167.90 85.03v-2.34 M168.34 85.03v-2.27 M169.43 85.05v-2.05 M170.12 85.06v-1.58 M171.22 85.08v-2.03 M172.41 85.10v-2.52 M173.03 85.11v-2.23 M173.54 85.12v-1.80 M174.08 85.13v-2.56 M174.95 85.14v-2.30 M175.56 85.15v-2.20 M177.23 85.18v-2.35 M178.12 85.19v-2.56 M179.70 86.27v-2.37 M183.78 86.70v-2.09 M185.14 86.70v-2.00 M186.44 86.70v-2.05 M187.88 86.70v-1.74 M189.51 86.70v-1.94 M190.44 86.70v-2.20 M192.96 86.70v-1.70 M194.01 86.70v-1.77 M194.67 86.70v-1.73 M196.81 86.70v-1.61 M197.28 86.70v-1.99" stroke="#111" stroke-width="1.1" fill="none"/>
<path d="M203.24 86.70v-1.78 M204.29 86.70v-1.72 M231.64 89.60v-2.57 M239.07 89.60v-2.23" stroke="#111" stroke-width="1.1" fill="none"/>
<path d="M87.00 263.11v-2.39 M88.69 264.11v-1.72 M89.21 264.42v-2.76 M89.88 264.81v-2.25 M91.12 265.54v-2.81 M91.62 265.84v-2.41 M94.78 267.59v-1.82 M95.63 267.95v-2.50 M96.99 268.52v-2.57 M98.16 269.02v-2.34 M99.51 269.59v-2.18 M100.20 269.88v-2.26 M100.94 270.19v-2.54 M101.99 270.61v-2.14 M102.92 270.75v-2.53 M103.42 270.82v-2.59 M106.17 271.21v-2.45 M107.47 271.40v-2.22 M108.80 271.59v-2.08 M111.72 272.34v-1.81 M112.73 272.97v-1.78 M113.82 273.64v-1.74 M114.44 274.02v-2.38 M114.93 274.32v-2.84 M115.61 274.74v-2.18 M116.83 275.13v-2.63 M117.81 275.17v-1.89 M118.36 275.20v-1.82 M118.86 275.22v-1.92 M122.46 275.38v-2.68 M123.52 275.58v-2.59 M124.82 275.89v-2.40 M125.72 276.11v-2.68 M126.76 276.36v-1.93 M127.75 276.60v-2.55 M128.30 276.74v-2.26 M128.84 276.87v-2.56 M129.72 277.08v-2.41 M130.40 277.25v-2.87 M131.19 277.44v-1.78 M131.87 277.60v-2.80 M133.04 277.89v-2.86 M134.09 278.05v-2.32 M134.97 278.12v-2.76 M136.34 278.23v-2.61 M137.20 278.31v-2.78 M137.96 278.37v-1.90 M138.52 278.41v-2.03 M139.49 278.49v-1.73 M140.67 278.59v-2.20 M141.48 278.66v-2.58 M142.23 278.78v-2.04 M144.48 279.56v-2.52 M145.88 280.04v-2.73 M146.71 280.33v-2.05 M147.62 280.64v-2.33 M148.44 280.92v-2.02 M149.36 281.24v-2.65 M150.11 281.50v-2.65 M150.60 281.66v-2.32 M151.58 281.95v-1.74 M152.25 282.15v-2.24 M153.66 282.56v-2.86 M154.16 282.71v-1.70 M155.05 282.98v-1.74 M157.88 283.94v-2.64 M158.75 284.48v-1.73 M159.64 285.04v-2.49 M160.98 285.87v-1.98 M161.58 286.25v-2.63 M162.54 286.85v-2.34 M163.28 287.24v-1.70 M164.37 287.51v-2.77 M165.29 287.74v-2.79 M166.54 288.04v-2.18 M167.50 288.28v-1.90 M168.63 288.56v-2.34 M169.49 288.88v-2.23 M170.73 289.37v-2.83 M171.35 289.62v-2.31 M172.22 289.97v-2.67 M173.58 290.51v-1.72 M174.60 290.92v-2.27 M175.34 291.22v-2.77 M175.91 291.47v-2.13 M176.87 292.05v-2.83 M177.96 292.71v-2.78 M178.61 293.10v-2.67 M179.38 293.57v-2.82 M180.76 294.40v-2.15 M181.50 294.85v-1.98 M184.51 296.02v-1.78 M185.48 296.21v-2.69 M186.56 296.42v-1.69 M187.30 296.57v-1.76 M188.03 296.71v-2.00 M190.65 297.23v-1.85 M191.98 297.51v-2.87 M193.10 297.74v-1.85 M193.62 297.85v-1.89 M194.28 297.99v-2.73 M194.80 298.10v-2.32 M195.64 298.27v-2.15 M197.05 298.57v-1.84 M197.67 298.69v-2.10 M200.51 302.20v-2.88 M201.91 302.89v-2.11 M203.29 303.56v-2.52 M206.00 304.41v-2.62 M207.01 304.50v-2.33 M207.91 304.58v-2.68 M208.57 304.64v-2.80 M209.86 304.76v-2.84 M211.13 304.88v-2.00 M215.53 307.80v-2.73 M219.55 307.80v-2.87 M220.67 307.80v-2.60 M221.24 307.80v-2.21 M221.85 307.80v-2.07 M222.81 310.47v-2.06 M223.62 312.40v-2.86 M224.99 312.40v-2.68 M225.73 312.40v-2.00 M226.33 312.40v-2.56 M227.12 312.40v-2.02 M228.52 312.40v-2.25 M229.50 312.40v-2.86 M230.47 312.40v-2.42 M231.02 312.40v-2.70 M235.61 312.40v-2.86 M236.44 312.40v-2.34 M237.75 312.40v-2.72 M238.90 316.60v-2.04 M239.86 316.60v-2.13 M240.95 316.60v-2.38 M241.57 316.60v-2.13 M242.63 316.60v-1.78 M243.40 316.60v-1.72" stroke="#111" stroke-width="1.1" fill="none"/>
<path d="M92.00 287.17v-2.32 M93.11 289.53v-2.69 M94.39 292.43v-2.50 M94.94 292.62v-2.13 M95.82 292.92v-2.02 M96.44 293.13v-2.40 M101.97 296.02v-2.01 M102.77 296.32v-2.20 M103.78 296.69v-2.20 M104.32 296.88v-2.51 M104.84 297.08v-2.58 M106.19 297.57v-1.69 M107.07 297.89v-2.75 M108.26 298.30v-2.18 M109.24 298.63v-1.92 M110.04 298.90v-2.45 M110.51 299.07v-2.31 M111.48 299.40v-1.96 M112.35 299.69v-2.33 M113.06 299.94v-2.47 M113.98 300.25v-2.04 M115.24 300.64v-2.32 M116.25 300.83v-2.60 M117.52 301.07v-2.57 M118.15 301.18v-2.20 M118.88 301.32v-2.73 M119.53 301.44v-2.81 M120.09 301.54v-2.16 M120.73 301.66v-1.73 M121.63 301.93v-2.70 M122.83 303.10v-2.16 M123.63 303.12v-1.98 M124.31 303.15v-2.09 M124.86 303.16v-2.21 M125.82 303.19v-2.52 M126.47 303.21v-2.41 M127.07 303.23v-2.15 M128.01 303.26v-2.43 M128.86 303.28v-2.62 M130.08 303.32v-2.37 M130.77 303.34v-2.50 M131.42 303.36v-2.86 M132.18 303.38v-2.26 M132.79 303.40v-2.09 M133.90 305.62v-1.81 M134.83 305.68v-2.25" stroke="#111" stroke-width="1.1" fill="none"/>
<path d="M135.00 305.69v-2.12 M136.19 305.77v-2.56 M140.83 306.05v-1.96 M142.69 306.17v-2.23 M144.71 306.29v-2.47 M149.20 308.40v-2.01 M150.37 308.40v-1.90 M151.90 308.40v-2.05 M152.44 308.40v-1.98 M154.02 308.40v-2.06 M154.71 308.40v-2.27 M158.18 308.40v-2.19 M161.96 309.42v-2.61 M163.19 310.17v-1.69 M164.01 310.68v-2.69 M164.57 311.02v-2.16 M165.66 311.69v-2.72 M166.33 311.98v-2.20 M167.02 312.16v-2.74 M168.71 312.58v-2.65 M169.24 312.71v-2.47 M169.98 312.89v-2.73 M170.89 313.12v-1.80 M172.37 313.30v-2.20 M173.35 313.30v-2.47 M174.56 313.30v-2.10 M176.27 313.30v-2.24 M177.61 313.57v-1.66 M178.26 314.12v-1.85 M179.89 315.52v-2.71 M181.68 316.99v-2.04 M182.11 317.21v-2.47 M184.02 318.16v-1.79 M186.03 319.03v-2.17 M190.79 319.50v-2.30 M194.87 319.90v-1.77 M199.26 320.17v-2.13" stroke="#111" stroke-width="1.1" fill="none"/>
<path d="M200.00 320.22v-1.66 M207.81 322.21v-1.57 M208.68 323.08v-1.73 M221.34 324.80v-2.21 M223.65 324.80v-1.73 M225.19 324.80v-2.20 M237.63 328.80v-1.95" stroke="#111" stroke-width="1.1" fill="none"/>
<path d="M350.00 45.75v-2.36 M350.69 46.61v-2.40 M351.65 47.81v-2.31 M352.45 48.56v-1.76 M353.50 48.83v-1.80 M354.64 49.13v-2.43 M355.45 49.33v-2.88 M356.07 49.49v-2.88 M356.67 49.65v-2.26 M357.35 49.82v-2.18 M357.86 49.95v-1.69 M358.85 50.21v-2.77 M359.40 50.35v-2.05 M360.23 50.55v-2.05 M360.83 50.67v-1.79 M361.99 50.92v-2.84 M362.64 51.05v-2.57 M363.51 51.23v-2.29 M364.44 51.43v-2.49 M365.30 51.61v-1.69 M365.86 51.72v-2.79 M366.66 51.89v-2.35 M367.43 52.05v-2.40 M367.96 52.16v-2.57 M368.65 52.31v-1.99 M369.40 52.52v-2.57 M370.56 52.98v-1.92 M371.30 53.28v-1.97 M372.21 53.64v-1.97 M372.84 53.90v-1.89 M373.69 54.24v-2.74 M374.59 54.59v-2.20 M375.12 54.81v-2.58 M375.88 55.03v-2.01 M376.54 55.08v-1.92 M377.46 55.17v-2.55 M378.04 55.22v-2.25 M378.81 55.29v-2.20 M379.46 55.35v-2.46 M380.45 55.44v-1.91 M381.57 55.54v-2.54 M382.74 55.64v-2.61 M383.87 55.75v-2.39 M385.02 55.85v-2.71 M386.15 55.95v-1.85 M386.80 56.01v-2.19 M387.53 56.08v-2.79 M391.48 56.38v-2.14 M392.65 56.44v-1.78 M393.77 56.49v-1.95 M394.92 56.55v-2.76 M395.65 56.59v-1.94 M396.53 56.63v-2.16 M397.39 56.68v-2.69 M398.53 56.74v-2.66 M399.09 56.76v-1.92 M399.70 56.80v-2.77 M400.84 57.98v-1.82 M401.64 58.48v-2.77 M402.33 58.61v-2.81 M402.97 58.73v-2.05 M403.94 58.90v-2.76 M404.72 59.04v-2.47 M405.63 59.21v-1.83 M409.60 59.75v-1.88 M410.34 59.82v-2.06 M411.22 59.91v-2.08 M411.92 59.99v-2.61 M412.73 60.07v-2.26 M413.32 60.13v-2.70 M414.16 60.22v-2.30 M415.24 60.33v-2.11 M418.24 60.64v-2.27 M419.06 60.72v-2.54 M419.70 60.79v-1.82 M420.80 60.90v-2.63 M421.48 60.97v-2.33 M422.56 61.09v-2.73 M423.74 61.52v-2.13 M424.32 61.75v-2.22 M425.34 62.16v-2.88 M426.31 62.55v-2.34 M426.87 62.78v-1.79 M427.44 63.01v-2.02 M429.79 63.84v-1.73 M430.65 63.93v-1.94 M431.64 64.03v-2.42 M432.67 64.14v-1.70 M433.31 64.21v-2.84 M433.96 64.27v-1.83 M435.05 64.39v-2.31 M436.02 64.49v-2.55 M437.07 64.60v-2.02 M437.74 64.66v-2.76 M438.55 64.75v-2.30 M439.53 64.85v-2.08 M440.56 64.96v-2.04 M441.12 65.02v-2.56 M442.04 65.11v-2.83 M442.84 65.19v-1.80 M443.59 65.44v-2.12 M444.74 65.85v-2.23 M445.70 66.19v-2.42 M446.55 66.48v-2.27 M447.62 66.86v-2.62" stroke="#111" stroke-width="1.1" fill="none"/>
<path d="M440.00 64.90v-1.47 M442.45 65.15v-2.11 M444.06 65.61v-1.53 M446.75 66.55v-1.40 M457.96 67.10v-1.97 M459.83 67.10v-2.21 M468.64 67.10v-1.44" stroke="#111" stroke-width="1.1" fill="none"/>
<path d="M478.00 70.20v-1.69 M479.84 70.20v-1.90 M482.13 70.20v-1.74 M482.89 70.20v-1.76 M484.56 70.20v-1.41 M487.33 70.20v-1.98 M488.43 70.20v-2.03 M489.18 70.20v-1.63 M494.71 70.20v-2.26 M496.92 70.20v-1.55 M498.39 70.20v-1.46 M500.79 70.20v-2.33 M502.78 70.20v-2.38 M503.93 70.20v-1.52 M504.91 70.20v-1.50" stroke="#111" stroke-width="1.1" fill="none"/>
<path d="M355.00 59.78v-2.05 M358.68 60.60v-2.02 M364.85 61.10v-1.86 M369.03 61.20v-2.10 M372.44 62.18v-1.72 M376.08 63.13v-1.59 M378.08 63.25v-1.47 M389.93 63.97v-1.44 M392.82 64.15v-2.13 M397.02 64.20v-2.04 M410.27 64.20v-2.15 M413.95 64.20v-1.45 M425.69 66.70v-2.00 M427.70 66.70v-2.07 M430.97 66.70v-1.76 M433.31 66.70v-1.73 M435.01 66.70v-2.06 M442.80 68.40v-2.00 M454.26 68.40v-1.60 M457.23 68.40v-1.84 M460.88 68.40v-1.36 M463.77 68.40v-1.85 M466.70 68.40v-1.29 M470.52 72.70v-1.79 M472.33 72.70v-1.37 M484.91 72.70v-1.69 M488.57 72.70v-1.73 M489.76 72.70v-1.95" stroke="#111" stroke-width="1.1" fill="none"/>
<path d="M355.00 100.76v-1.31 M357.19 100.89v-1.82 M358.94 101.00v-1.58 M363.03 101.24v-1.33 M371.82 102.70v-1.36 M374.49 102.97v-1.79 M376.39 103.80v-2.00 M379.20 103.80v-1.55 M381.33 103.80v-2.13 M386.03 105.50v-1.44 M387.21 105.50v-1.41 M391.62 105.50v-2.07 M403.79 107.30v-1.46 M404.47 107.30v-1.76 M406.19 107.30v-1.44 M413.59 109.53v-1.71" stroke="#111" stroke-width="1.1" fill="none"/>
<path d="M420.00 115.80v-2.06 M424.48 115.80v-1.82 M435.06 115.80v-1.32 M440.44 115.80v-1.28 M445.32 115.80v-2.05 M456.17 115.80v-1.76 M467.17 115.80v-1.76" stroke="#111" stroke-width="1.1" fill="none"/>
<path d="M348.00 268.16v-2.23 M348.56 268.32v-2.37 M349.68 269.18v-1.95 M350.92 270.13v-2.00 M351.49 270.56v-2.75 M352.65 271.36v-2.40 M353.21 271.72v-2.18 M354.33 272.46v-2.79 M354.80 272.77v-1.96 M355.99 273.42v-2.83 M356.86 273.83v-2.03 M358.06 274.39v-2.74 M359.05 274.84v-2.81 M359.78 275.19v-1.99 M360.26 275.41v-2.53 M361.60 275.87v-2.70 M362.79 276.04v-2.14 M363.46 276.13v-2.34 M364.10 276.22v-2.06 M365.07 276.36v-2.43 M365.66 276.44v-2.51 M366.30 276.53v-2.84 M367.10 276.67v-2.42 M368.40 277.00v-2.58 M369.46 277.26v-2.30 M370.44 277.50v-2.47 M371.70 277.81v-2.65 M372.28 277.96v-2.43 M374.94 278.61v-2.13 M376.03 278.88v-2.16 M376.87 279.12v-2.86 M377.80 279.39v-2.04 M378.89 279.70v-2.57 M380.14 280.06v-2.84 M381.13 280.35v-2.24 M381.67 280.50v-2.69 M382.76 280.82v-1.87 M383.31 280.97v-2.27 M384.40 281.25v-2.56 M385.37 281.41v-2.63 M385.89 281.50v-1.91 M386.38 281.58v-2.30 M387.38 281.74v-2.80 M388.54 281.93v-1.69 M389.85 282.15v-1.81 M390.46 282.25v-1.89 M391.25 282.38v-2.10 M392.28 282.55v-2.63 M393.30 282.72v-2.05 M394.33 282.89v-2.38 M395.22 283.04v-1.93 M396.31 283.22v-1.72 M396.99 283.33v-1.78 M398.17 283.52v-1.76 M402.38 284.12v-2.79 M403.64 284.30v-2.16 M404.23 284.38v-1.79 M404.74 284.45v-2.71 M405.42 284.55v-2.22 M406.36 284.68v-2.82 M407.12 284.91v-2.71 M407.79 285.13v-2.68 M408.52 285.37v-2.67 M409.31 285.64v-1.80 M410.55 286.05v-2.09 M411.15 286.25v-2.73 M411.72 286.44v-2.43 M412.64 286.75v-2.16 M413.26 286.95v-2.76 M414.22 287.27v-2.77 M414.85 287.46v-2.43 M416.05 287.76v-1.81 M417.38 288.09v-2.09 M418.72 288.42v-2.59 M419.24 288.55v-2.16 M419.70 288.66v-2.80 M420.19 288.78v-2.76 M420.94 288.97v-2.61 M421.79 289.17v-2.71 M423.01 289.60v-1.91 M424.08 290.27v-2.26 M425.04 290.87v-1.92 M426.31 291.67v-1.81 M427.64 292.51v-2.49 M428.39 292.87v-2.08 M429.59 293.17v-2.77 M430.32 293.35v-1.89 M431.17 293.57v-1.86 M432.09 293.80v-2.33 M432.73 293.96v-2.07 M433.99 294.27v-2.18 M435.21 294.58v-1.99 M436.56 294.97v-1.84 M437.02 295.14v-2.71 M437.73 295.40v-2.64 M440.94 296.59v-2.31 M441.52 296.81v-2.70 M442.38 297.38v-2.43 M445.00 299.11v-2.29 M445.70 299.53v-1.99 M446.96 299.88v-1.95 M447.48 300.02v-1.94 M448.73 300.37v-2.21 M450.04 300.73v-2.60 M450.71 300.91v-2.29 M451.39 301.10v-1.94 M452.06 301.29v-2.40 M452.91 301.52v-2.42 M457.15 302.10v-2.09 M458.47 302.10v-2.10 M458.94 302.10v-2.21 M459.72 302.10v-2.37 M460.40 302.91v-2.31 M461.12 304.33v-2.22 M461.64 304.80v-1.74 M462.48 305.21v-2.81 M463.52 305.73v-1.97 M464.15 306.12v-2.45 M464.62 306.43v-2.19 M465.66 307.13v-2.16 M466.66 307.79v-2.23 M469.97 308.56v-1.90" stroke="#111" stroke-width="1.1" fill="none"/>
<path d="M470.00 308.57v-1.92 M476.14 311.83v-1.93 M482.60 312.10v-1.64 M484.89 315.06v-2.62 M494.47 315.70v-1.66 M497.67 315.70v-2.41 M500.11 315.70v-2.15 M502.67 319.60v-2.49 M505.81 320.82v-1.77" stroke="#111" stroke-width="1.1" fill="none"/>
<path d="M355.00 275.80v-1.67 M358.47 280.95v-1.98 M360.79 281.79v-1.52 M372.24 285.50v-1.59 M373.35 285.84v-1.77 M384.22 289.86v-1.75 M387.26 290.26v-1.75 M388.73 290.35v-1.36 M390.07 290.44v-1.44 M390.81 290.48v-1.69 M393.12 290.63v-2.01 M394.68 290.73v-1.33 M398.10 294.91v-1.92 M399.61 295.07v-1.69 M402.17 295.34v-2.12 M412.54 298.20v-1.56 M413.65 298.20v-2.24 M414.55 298.20v-2.21 M415.91 298.20v-1.61 M419.12 298.20v-1.78 M420.00 298.20v-2.00 M433.04 303.57v-2.18 M440.87 304.15v-2.14 M444.80 308.48v-2.01 M447.92 309.92v-1.74 M448.48 311.10v-1.34 M449.88 311.13v-1.59 M455.76 311.26v-1.89 M471.74 314.00v-1.95 M483.21 317.70v-1.93 M485.07 317.70v-1.62 M493.47 322.20v-1.48 M495.16 322.20v-1.68 M497.69 322.20v-1.94 M500.95 322.20v-2.16 M504.70 327.00v-1.35 M505.44 327.00v-2.15" stroke="#111" stroke-width="1.1" fill="none"/>
<path d="M355.00 314.29v-1.84 M356.16 315.42v-2.28 M357.74 316.97v-2.14 M361.46 318.43v-1.56 M365.58 319.27v-2.16 M368.10 319.83v-2.10 M370.50 320.36v-1.70 M381.59 323.48v-1.37 M382.49 323.75v-1.53 M394.86 325.40v-1.66 M399.56 325.40v-1.82 M403.36 325.40v-1.51 M408.54 325.40v-1.85 M411.52 327.50v-1.61 M412.47 327.50v-2.18 M413.54 327.50v-1.68 M418.93 327.50v-1.59 M420.56 327.50v-2.26 M425.02 330.80v-1.85 M429.37 330.80v-2.12 M431.36 330.80v-2.24 M439.41 330.80v-1.73 M444.42 334.70v-1.99 M445.74 334.70v-2.00 M450.74 334.70v-1.58 M453.75 334.70v-1.42 M464.28 339.50v-2.00 M468.85 339.50v-1.37 M472.75 339.50v-2.00 M477.50 339.50v-1.91 M482.26 339.50v-1.43" stroke="#111" stroke-width="1.1" fill="none"/>
</svg>
</body></html>
